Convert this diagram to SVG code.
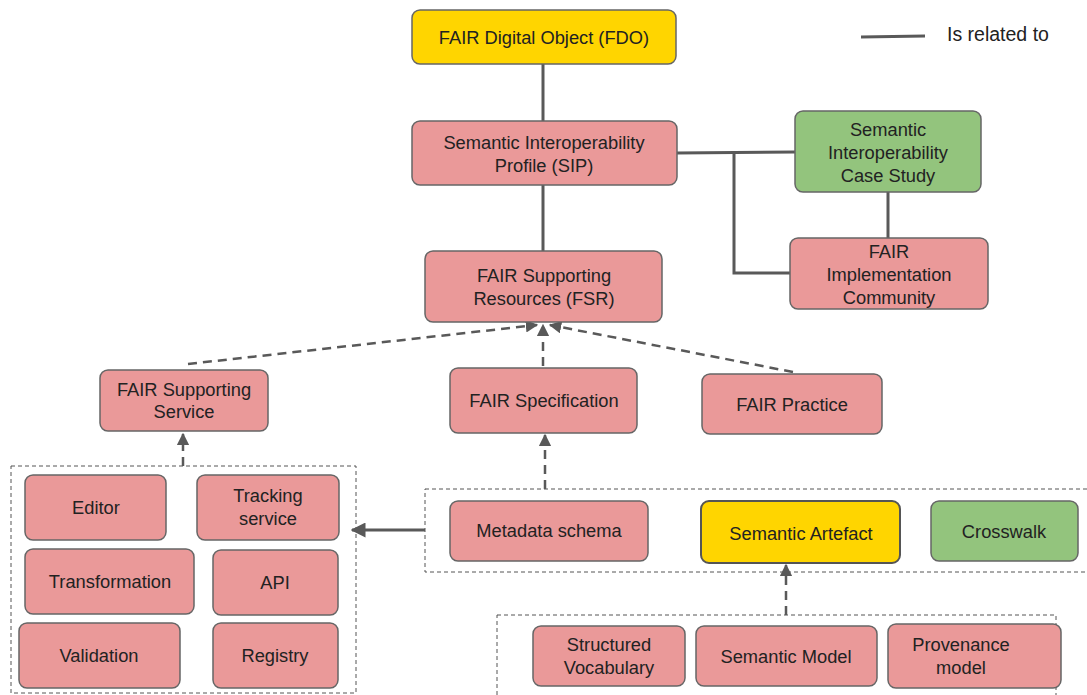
<svg xmlns="http://www.w3.org/2000/svg" width="1087" height="695" viewBox="0 0 1087 695">
<defs>
<style>
.n rect{stroke:#666;stroke-width:1.5}
.p{fill:#EA9999}
.y{fill:#FFD500}
.g{fill:#93C47D}
text{font-family:"Liberation Sans",Arial,sans-serif;font-size:18.3px;fill:#222;text-anchor:middle}
.c{stroke:#595959;stroke-width:3;fill:none}
.d{stroke:#595959;stroke-width:2.5;fill:none;stroke-dasharray:9 6}
.box{stroke:#555;stroke-width:1;fill:none;stroke-dasharray:4 3}
</style>
<marker id="ah" viewBox="0 0 10 10" refX="9" refY="5" markerWidth="5" markerHeight="5" orient="auto" markerUnits="strokeWidth">
<path d="M0,0 L10,5 L0,10 z" fill="#595959"/>
</marker>
</defs>
<rect width="1087" height="695" fill="#fff"/>
<g id="containers">
<rect class="box" x="11" y="466" width="345" height="227"/>
<rect class="box" x="425" y="489" width="670" height="83"/>
<rect class="box" x="497" y="615" width="559" height="90"/>
</g>
<g id="connectors">
<line class="c" x1="543" y1="64" x2="543" y2="121"/>
<line class="c" x1="543" y1="185" x2="543" y2="251"/>
<line class="c" x1="677" y1="153" x2="795" y2="152"/>
<polyline class="c" points="734,153 734,273 790,273"/>
<line class="c" x1="888" y1="192" x2="888" y2="238"/>
<line class="d" x1="188" y1="364" x2="537" y2="325" marker-end="url(#ah)"/>
<line class="d" x1="543" y1="366" x2="543" y2="325" marker-end="url(#ah)"/>
<line class="d" x1="793" y1="372" x2="550" y2="325" marker-end="url(#ah)"/>
<line class="d" x1="183" y1="466" x2="183" y2="434" marker-end="url(#ah)"/>
<line class="d" x1="545" y1="489" x2="545" y2="435" marker-end="url(#ah)"/>
<line class="c" x1="425" y1="530" x2="352" y2="530" stroke-width="2.5" marker-end="url(#ah)"/>
<line class="d" x1="786" y1="615" x2="786" y2="565" marker-end="url(#ah)"/>
<line class="c" x1="861" y1="37" x2="925" y2="36" stroke-width="3.5"/>
</g>
<text x="947" y="41" style="text-anchor:start;font-size:19.5px">Is related to</text>
<g id="fdo" class="n"><rect class="y" x="412" y="10" width="264" height="54" rx="8"/><text x="544" y="44">FAIR Digital Object (FDO)</text></g>
<g id="sip" class="n"><rect class="p" x="412" y="121" width="265" height="64" rx="8"/><text x="544" y="149">Semantic Interoperability</text><text x="544" y="172">Profile (SIP)</text></g>
<g id="fsr" class="n"><rect class="p" x="425" y="251" width="237" height="71" rx="8"/><text x="544" y="282">FAIR Supporting</text><text x="544" y="305">Resources (FSR)</text></g>
<g id="case" class="n"><rect class="g" x="795" y="111" width="186" height="81" rx="8"/><text x="888" y="136">Semantic</text><text x="888" y="159">Interoperability</text><text x="888" y="182">Case Study</text></g>
<g id="fic" class="n"><rect class="p" x="790" y="238" width="198" height="71" rx="8"/><text x="889" y="258">FAIR</text><text x="889" y="281">Implementation</text><text x="889" y="304">Community</text></g>
<g id="fss" class="n"><rect class="p" x="100" y="370" width="168" height="61" rx="8"/><text x="184" y="396">FAIR Supporting</text><text x="184" y="418">Service</text></g>
<g id="fspec" class="n"><rect class="p" x="450" y="368" width="187" height="65" rx="8"/><text x="544" y="407">FAIR Specification</text></g>
<g id="fprac" class="n"><rect class="p" x="702" y="374" width="180" height="60" rx="8"/><text x="792" y="411">FAIR Practice</text></g>
<g id="editor" class="n"><rect class="p" x="25" y="475" width="141" height="65" rx="8"/><text x="96" y="514">Editor</text></g>
<g id="tracking" class="n"><rect class="p" x="197" y="475" width="142" height="65" rx="8"/><text x="268" y="502">Tracking</text><text x="268" y="525">service</text></g>
<g id="transformation" class="n"><rect class="p" x="25" y="549" width="169" height="65" rx="8"/><text x="110" y="588">Transformation</text></g>
<g id="api" class="n"><rect class="p" x="213" y="550" width="125" height="65" rx="8"/><text x="275" y="589">API</text></g>
<g id="validation" class="n"><rect class="p" x="19" y="623" width="161" height="65" rx="8"/><text x="99" y="662">Validation</text></g>
<g id="registry" class="n"><rect class="p" x="213" y="623" width="125" height="65" rx="8"/><text x="275" y="662">Registry</text></g>
<g id="metadata" class="n"><rect class="p" x="450" y="501" width="198" height="60" rx="8"/><text x="549" y="537">Metadata schema</text></g>
<g id="artefact" class="n"><rect class="y" x="701" y="501" width="199" height="62" rx="8" style="stroke:#555;stroke-width:2"/><text x="801" y="540">Semantic Artefact</text></g>
<g id="crosswalk" class="n"><rect class="g" x="931" y="501" width="147" height="60" rx="8"/><text x="1004" y="538">Crosswalk</text></g>
<g id="vocab" class="n"><rect class="p" x="533" y="626" width="152" height="60" rx="8"/><text x="609" y="651">Structured</text><text x="609" y="674">Vocabulary</text></g>
<g id="semmodel" class="n"><rect class="p" x="696" y="626" width="181" height="60" rx="8"/><text x="786" y="663">Semantic Model</text></g>
<g id="prov" class="n"><rect class="p" x="888" y="624" width="173" height="64" rx="8"/><text x="961" y="651">Provenance</text><text x="961" y="674">model</text></g>
</svg>
